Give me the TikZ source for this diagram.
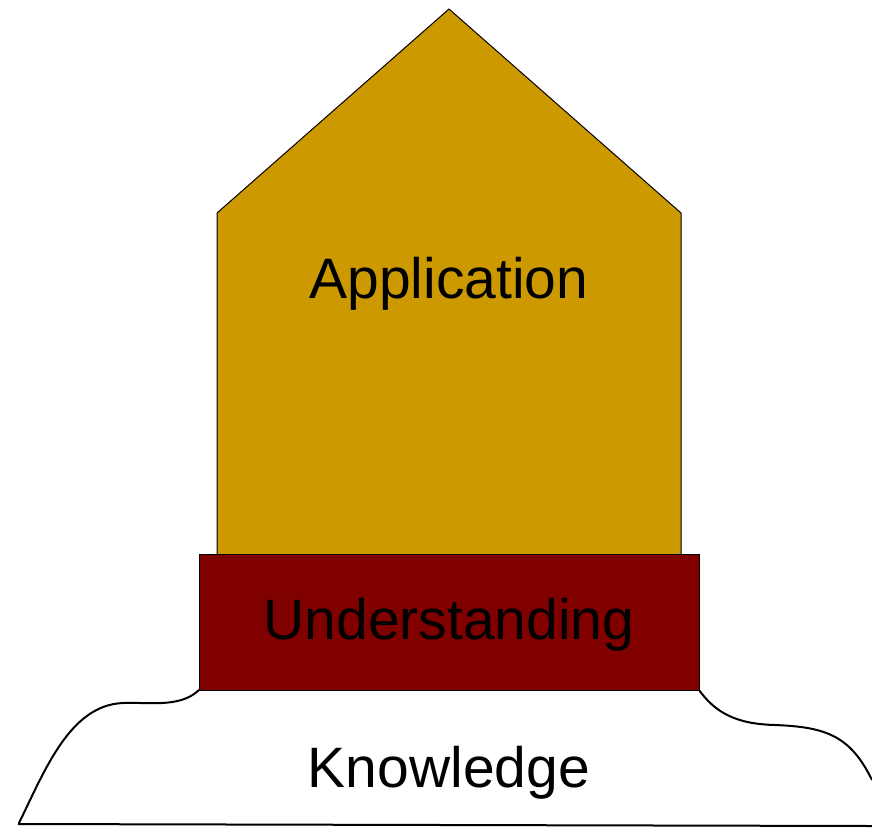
\documentclass[tikz,border=0pt]{standalone}
\usepackage{fontspec}
\setmainfont{Liberation Sans}
\definecolor{appgold}{RGB}{204,153,0}
\definecolor{undred}{RGB}{128,0,0}
\tikzset{
  lbl/.style={font=\fontsize{57}{60}\selectfont, text=black, inner sep=0pt},
  outline/.style={draw=black, line width=1pt}
}
\begin{document}
\begin{tikzpicture}[x=1pt,y=-1pt]
\useasboundingbox (0,0) rectangle (872,827);
% knowledge ground
\draw[line width=2pt, line cap=round] (19,823)
  .. controls (45,770) and (70,705) .. (123,703)
  .. controls (150,702) and (180,708) .. (199,690);
\draw[line width=2pt] (699,690)
  .. controls (715,712) and (735,724) .. (775,725)
  .. controls (825,727) and (850,735) .. (872,780);
\draw[line width=2pt] (18,824) -- (872,826);
% application house
\path[outline, fill=appgold] (217,560) -- (217,213) -- (449,9) -- (681,213) -- (681,560) -- cycle;
% understanding block
\node[outline, fill=undred, minimum width=500pt, minimum height=136pt, anchor=north west, inner sep=0pt] (und) at (199,554) {};
\node[lbl] (undt) at (449,625) {Understanding};
\node[lbl] (app) at (449,284) {Application};
\node[lbl] (know) at (449,773) {Knowledge};
\end{tikzpicture}
\end{document}
